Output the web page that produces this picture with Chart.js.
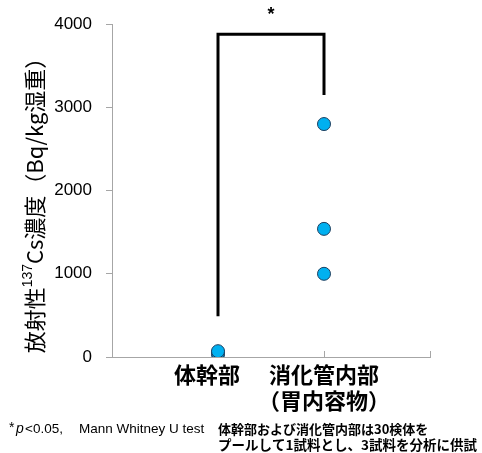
<!DOCTYPE html>
<html>
<head>
<meta charset="utf-8">
<script src="https://cdn.jsdelivr.net/npm/chart.js@4/dist/chart.umd.min.js"></script>
<style>
  html, body { margin: 0; padding: 0; background: #fff; }
  #wrap { width: 482px; height: 453px; }
</style>
</head>
<body>
<div id="wrap"><canvas id="c" width="482" height="453"></canvas></div>
<script>
// 部位 (x = 1, 2)
const categories = ['体幹部', ['消化管内部', '（胃内容物）']];
const categoryX = [1, 2];
// 放射性137Cs濃度 (Bq/kg湿重)
const trunkValues = [30, 50, 70];
const gutValues = [2800, 1540, 1000];
const yTicks = [0, 1000, 2000, 3000, 4000];
// 有意差の括弧
const bracketX = [1, 1, 2, 2];
const bracketY = [490, 3880, 3880, 3150];
const sigMark = '*';

const JP = '"Noto Sans CJK JP", "Noto Sans", sans-serif';
const LAT = '"Liberation Sans", sans-serif';

// 軸タイトル・注記・目盛り
const extras = {
  id: 'extras',
  afterDraw(chart) {
    const ctx = chart.ctx;
    const xs = chart.scales.x;
    const area = chart.chartArea;
    ctx.save();

    // x軸の内向き目盛り
    ctx.strokeStyle = '#a6a6a6';
    ctx.lineWidth = 1;
    [2, 3].forEach(v => {
      const px = Math.round(xs.getPixelForValue(v)) + 0.5;
      ctx.beginPath();
      ctx.moveTo(px, area.bottom);
      ctx.lineTo(px, area.bottom - 6);
      ctx.stroke();
    });

    // 有意差マーク
    ctx.fillStyle = '#000';
    ctx.font = 'bold 18px ' + LAT;
    ctx.textAlign = 'center';
    ctx.textBaseline = 'middle';
    ctx.fillText(sigMark, (xs.getPixelForValue(1) + xs.getPixelForValue(2)) / 2, 15);

    // y軸タイトル（上付き 137）
    const parts = [
      { t: '放射性', f: '22px ' + JP, dy: 0 },
      { t: '137', f: '14px ' + LAT, dy: -7 },
      { t: 'Cs濃度', f: '22px ' + JP, dy: 0 },
      { t: '（Bq/kg湿重）', f: '22px ' + JP, dy: 0 }
    ];
    let total = 0;
    parts.forEach(p => { ctx.font = p.f; p.w = ctx.measureText(p.t).width; total += p.w; });
    ctx.translate(35, 200);
    ctx.rotate(-Math.PI / 2);
    ctx.textAlign = 'left';
    ctx.textBaseline = 'middle';
    let x = -total / 2;
    parts.forEach(p => { ctx.font = p.f; ctx.fillText(p.t, x, p.dy); x += p.w; });
    ctx.setTransform(1, 0, 0, 1, 0, 0);

    // 注記
    ctx.textBaseline = 'middle';
    ctx.font = '14px ' + LAT;
    ctx.fillText('*', 9, 428);
    ctx.font = 'italic 14px ' + LAT;
    ctx.fillText('p', 16, 429);
    ctx.font = '13.5px ' + LAT;
    ctx.fillText('<0.05,', 25, 429);
    ctx.fillText('Mann Whitney U test', 79, 429);
    ctx.font = 'bold 13px ' + JP;
    ctx.fillText('体幹部および消化管内部は30検体を', 218, 429);
    ctx.font = 'bold 13.5px ' + JP;
    ctx.fillText('プールして1試料とし、3試料を分析に供試', 218, 445);
    ctx.restore();
  }
};

const pointStyle = {
  pointRadius: 6.5,
  pointHoverRadius: 6.5,
  pointBackgroundColor: '#00b0f0',
  pointBorderColor: '#1f3f5f',
  pointBorderWidth: 1,
  showLine: false
};

new Chart(document.getElementById('c'), {
  type: 'scatter',
  data: {
    datasets: [
      {
        data: bracketX.map((x, i) => ({ x, y: bracketY[i] })),
        showLine: true,
        borderColor: '#000',
        borderWidth: 3,
        pointRadius: 0,
        tension: 0
      },
      Object.assign({ data: trunkValues.map(y => ({ x: categoryX[0], y })) }, pointStyle),
      Object.assign({ data: gutValues.map(y => ({ x: categoryX[1], y })) }, pointStyle)
    ]
  },
  options: {
    responsive: false,
    animation: false,
    events: [],
    layout: { padding: { top: 22, right: 52, left: 0, bottom: 0 } },
    plugins: { legend: { display: false }, tooltip: { enabled: false } },
    scales: {
      x: {
        type: 'linear',
        min: 0,
        max: 3,
        afterBuildTicks: s => { s.ticks = [0, 1, 2, 3].map(v => ({ value: v })); },
        afterFit: s => { s.height = 96; },
        border: { color: '#a6a6a6', width: 1 },
        grid: { display: false },
        ticks: {
          autoSkip: false,
          maxRotation: 0,
          padding: -4,
          color: '#000',
          font: { family: JP, size: 22, weight: 'bold', lineHeight: 1.2 },
          callback: v => v === 1 ? categories[0] + '　' : (v === 2 ? categories[1] : '')
        }
      },
      y: {
        min: 0,
        max: 4000,
        afterBuildTicks: s => { s.ticks = yTicks.map(v => ({ value: v })); },
        afterFit: s => { s.width = 112; },
        border: { color: '#a6a6a6', width: 1 },
        grid: { drawOnChartArea: false, tickLength: 6, color: '#a6a6a6' },
        ticks: {
          padding: 14,
          color: '#000',
          font: { family: LAT, size: 17 },
          callback: v => String(v)
        }
      }
    }
  },
  plugins: [extras]
});
</script>
</body>
</html>
